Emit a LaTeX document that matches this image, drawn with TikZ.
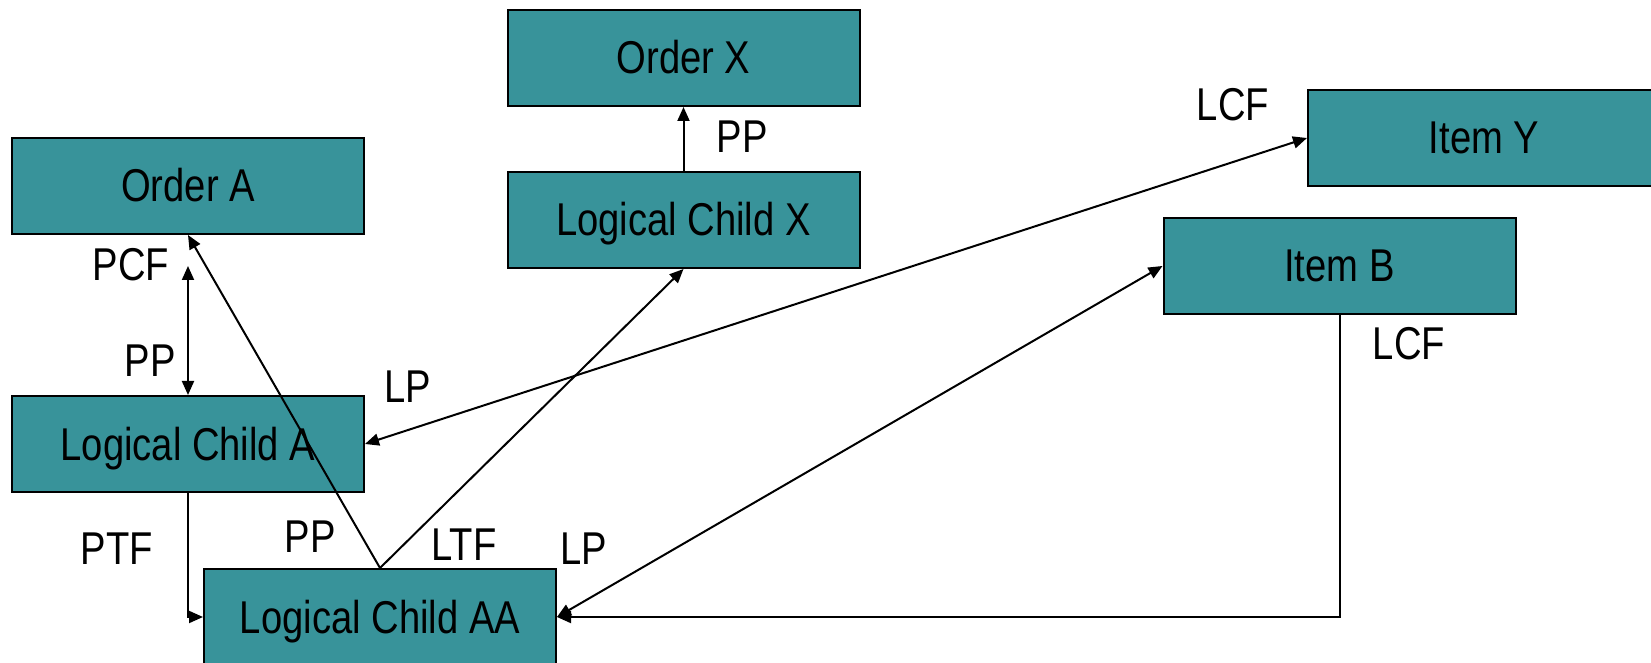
\documentclass[tikz,border=0pt]{standalone}
\usepackage{fontspec}
\setmainfont{Liberation Sans}[FakeStretch=0.83]
\usepackage{xcolor}
\definecolor{boxteal}{HTML}{38939A}
\usepackage{tikz}
\usetikzlibrary{
  arrows.meta,
  positioning
}

\begin{document}
\begin{tikzpicture}[
    x=0.5pt, y=0.5pt,
    every node/.style={font=\fontsize{23}{27}\selectfont},
    box/.style={
      draw,
      line width=1pt,
      fill=boxteal,
      inner sep=0pt,
      text height=16pt,
      text depth=0pt,
      minimum width=176pt,
      minimum height=48pt
    },
    lbl/.style={
      draw=none,
      inner sep=0pt
    },
    ar/.style={-{Triangle[length=7pt,width=6pt]}, line width=1pt},
    biar/.style={{Triangle[length=7pt,width=6pt]}-{Triangle[length=7pt,width=6pt]}, line width=1pt}
  ]
    \useasboundingbox (0,0) rectangle (1651,-663);

    % Left column: Order A and its logical children
    \node[box] (ordera) at (188,-186) {Order A};
    \node[box, below=80pt of ordera] (lca) {Logical Child A};
    \node[box] (lcaa) at (380,-617) {Logical Child AA};

    % Middle: Order X
    \node[box] (orderx) at (683.5,-58) {Order X};
    \node[box, below=32pt of orderx] (lcx) {Logical Child X};

    % Right: items
    \node[box] (itemy) at (1484,-138) {Item Y};
    \node[box] (itemb) at (1339.5,-266) {Item B};

    % Pointer labels
    \node[lbl] (pcf) at (131,-265) {PCF};
    \node[lbl] (ppa) at (150,-361) {PP};
    \node[lbl] (lpa) at (408,-387) {LP};
    \node[lbl] (lcfy) at (1233,-105) {LCF};
    \node[lbl] (ppx) at (742,-137) {PP};
    \node[lbl] (lcfb) at (1409,-344) {LCF};
    \node[lbl] (ptf) at (117,-549) {PTF};
    \node[lbl] (ppaa) at (310,-537) {PP};
    \node[lbl] (ltf) at (464,-545) {LTF};
    \node[lbl] (lpaa) at (584,-549) {LP};

    \draw[ar] (lcx) -- (orderx);
    \draw[biar] ([yshift=-15.5pt]ordera.south) -- (lca.north);
    \draw[ar] (lca.south) |- (lcaa.west);
    \draw[ar] (lcaa.north) -- (ordera.south);
    \draw[ar] (lcaa.north) -- (lcx.south);
    \draw[biar] (lca.east) -- (itemy.west);
    \draw[biar] (lcaa.east) -- (itemb.west);
    \draw[ar] (itemb.south) |- (lcaa.east);

\end{tikzpicture}
\end{document}
